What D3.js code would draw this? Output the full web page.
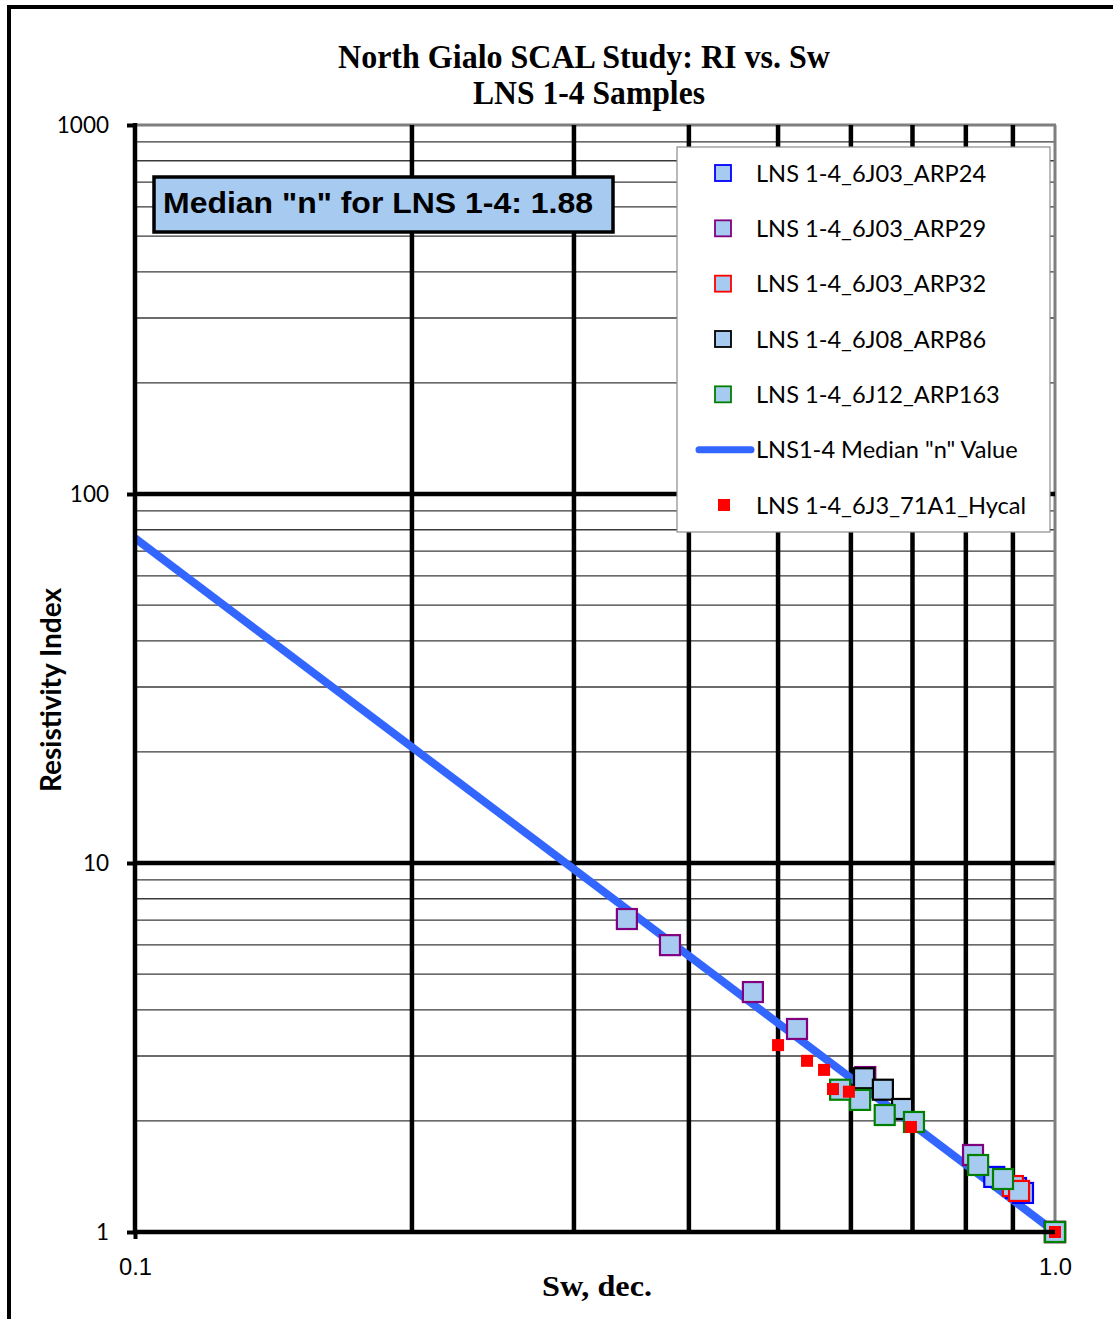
<!DOCTYPE html>
<html>
<head>
<meta charset="utf-8">
<script src="https://cdnjs.cloudflare.com/ajax/libs/d3/7.8.5/d3.min.js"></script>
<style>
  html, body { margin: 0; padding: 0; background: #fff; }
  svg { display: block; }
</style>
</head>
<body>
<script>
// Resistivity index vs. water saturation, LNS 1-4 core samples (log-log)
const seriesNames = [
  "LNS 1-4_6J03_ARP24",
  "LNS 1-4_6J03_ARP29",
  "LNS 1-4_6J03_ARP32",
  "LNS 1-4_6J08_ARP86",
  "LNS 1-4_6J12_ARP163"
];
const seriesStroke = ["#0000ff", "#800080", "#ff0000", "#000000", "#008000"];

const swARP24  = [0.859, 0.907, 0.923, 1.0];
const riARP24  = [1.41, 1.316, 1.276, 1.0];
const swARP29  = [0.3425, 0.3815, 0.4695, 0.5243, 0.622, 0.8145, 1.0];
const riARP29  = [7.05, 5.99, 4.47, 3.55, 2.63, 1.617, 1.0];
const swARP32  = [0.900, 0.914, 1.0];
const riARP32  = [1.332, 1.292, 1.0];
const swARP86  = [0.620, 0.650, 0.682, 1.0];
const riARP86  = [2.61, 2.43, 2.155, 1.0];
const swARP163 = [0.584, 0.614, 0.653, 0.7026, 0.825, 0.878, 1.0];
const riARP163 = [2.43, 2.28, 2.075, 1.987, 1.519, 1.392, 1.0];

const hycalName = "LNS 1-4_6J3_71A1_Hycal";
const swHycal = [0.500, 0.5376, 0.561, 0.5737, 0.597, 0.6973, 1.0];
const riHycal = [3.21, 2.91, 2.75, 2.44, 2.40, 1.926, 1.0];

const medianName = "LNS1-4 Median \"n\" Value";
const medianN = 1.88;
const medianSw = [0.1, 1.0];

const xTickValues = [0.1, 1.0];
const xTickLabels = ["0.1", "1.0"];
const yTickValues = [1, 10, 100, 1000];
const yTickLabels = ["1", "10", "100", "1000"];

const seriesX = [swARP24, swARP29, swARP32, swARP86, swARP163];
const seriesY = [riARP24, riARP29, riARP32, riARP86, riARP163];

const W = 1113, H = 1319;
const svg = d3.select("body").append("svg").attr("width", W).attr("height", H);

// outer chart frame (top and left edges)
svg.append("line").attr("x1", 9).attr("x2", W).attr("y1", 7).attr("y2", 7)
  .attr("stroke", "#000").attr("stroke-width", 4);
svg.append("line").attr("x1", 9).attr("x2", 9).attr("y1", 5).attr("y2", H)
  .attr("stroke", "#000").attr("stroke-width", 4);

const x = d3.scaleLog().domain([0.1, 1.0]).range([135, 1055]);
const y = d3.scaleLog().domain([1, 1000]).range([1232, 125]);

const g = svg.append("g");

// minor horizontal gridlines (2..9 within each decade)
const minorY = [];
for (let d = 1; d < 1000; d *= 10) for (let k = 2; k <= 9; k++) minorY.push(d * k);
g.selectAll("line.minor").data(minorY).enter().append("line")
  .attr("x1", x(0.1)).attr("x2", x(1.0))
  .attr("y1", d => y(d)).attr("y2", d => y(d))
  .attr("stroke", "#3a3a3a").attr("stroke-width", 1.4);

// plot-area border (top and right)
g.append("line").attr("x1", x(0.1)).attr("x2", x(1.0) + 1).attr("y1", y(1000)).attr("y2", y(1000))
  .attr("stroke", "#7f7f7f").attr("stroke-width", 3);
g.append("line").attr("x1", x(1.0)).attr("x2", x(1.0)).attr("y1", y(1000)).attr("y2", y(1))
  .attr("stroke", "#7f7f7f").attr("stroke-width", 3);

// major vertical gridlines
const majorX = [0.2, 0.3, 0.4, 0.5, 0.6, 0.7, 0.8, 0.9];
g.selectAll("line.vx").data(majorX).enter().append("line")
  .attr("x1", d => x(d)).attr("x2", d => x(d))
  .attr("y1", y(1000)).attr("y2", y(1))
  .attr("stroke", "#000").attr("stroke-width", 4.5);

// major horizontal gridlines
g.selectAll("line.hy").data([10, 100]).enter().append("line")
  .attr("x1", x(0.1)).attr("x2", x(1.0))
  .attr("y1", d => y(d)).attr("y2", d => y(d))
  .attr("stroke", "#000").attr("stroke-width", 4.5);

// axes
const yAxis = d3.axisLeft(y).tickValues(yTickValues)
  .tickFormat((d, i) => yTickLabels[i]).tickSizeInner(8).tickSizeOuter(0).tickPadding(18);
const ya = svg.append("g").attr("transform", `translate(${x(0.1)},0)`).call(yAxis);
ya.select(".domain").attr("stroke", "#000").attr("stroke-width", 4.5)
  .attr("d", `M0,${y(1000) - 2}V${y(1) + 2}`);
ya.selectAll(".tick line").attr("stroke", "#000").attr("stroke-width", 4);
ya.selectAll(".tick text").attr("font-family", "Lato, 'Open Sans', sans-serif")
  .attr("font-size", 22.5).attr("fill", "#000");

const xAxis = d3.axisBottom(x).tickValues(xTickValues)
  .tickFormat((d, i) => xTickLabels[i]).tickSizeInner(7).tickSizeOuter(0).tickPadding(20);
const xa = svg.append("g").attr("transform", `translate(0,${y(1)})`).call(xAxis);
xa.select(".domain").attr("stroke", "#000").attr("stroke-width", 4.5)
  .attr("d", `M${x(0.1) - 2},0H${x(1.0)}`);
xa.selectAll(".tick line").attr("stroke", "#000").attr("stroke-width", 4);
xa.selectAll(".tick line").filter(d => d === 1.0).attr("stroke-width", 0);
xa.selectAll(".tick text").attr("font-family", "'Liberation Sans', Arial, sans-serif")
  .attr("font-size", 23).attr("fill", "#000")
  .attr("textLength", 33).attr("lengthAdjust", "spacingAndGlyphs");

// median "n" line: RI = Sw^-n
const line = d3.line().x(d => x(d)).y(d => y(Math.pow(d, -medianN)));
g.append("path").datum(medianSw).attr("d", line)
  .attr("fill", "none").attr("stroke", "#3366ff").attr("stroke-width", 8);

// sample series markers
const markerSize = 20;
seriesX.forEach((xs, si) => {
  const pts = xs.map((v, i) => [v, seriesY[si][i]]);
  g.append("g").selectAll("rect").data(pts).enter().append("rect")
    .attr("x", d => x(d[0]) - markerSize / 2)
    .attr("y", d => y(d[1]) - markerSize / 2)
    .attr("width", markerSize).attr("height", markerSize)
    .attr("fill", "#a6caf0").attr("stroke", seriesStroke[si]).attr("stroke-width", 2.2);
});

// Hycal points
const hpts = swHycal.map((v, i) => [v, riHycal[i]]);
g.append("g").selectAll("rect").data(hpts).enter().append("rect")
  .attr("x", d => x(d[0]) - 6).attr("y", d => y(d[1]) - 6)
  .attr("width", 12).attr("height", 12).attr("fill", "#ff0000");

// annotation box
svg.append("rect").attr("x", 154).attr("y", 177).attr("width", 459).attr("height", 55)
  .attr("fill", "#a6caf0").attr("stroke", "#000").attr("stroke-width", 3.5);
svg.append("text").attr("x", 163).attr("y", 213)
  .attr("font-family", "'Liberation Sans', Arial, sans-serif").attr("font-weight", "bold")
  .attr("font-size", 30).attr("textLength", 430).attr("lengthAdjust", "spacingAndGlyphs")
  .text(`Median "n" for LNS 1-4: ${medianN.toFixed(2)}`);

// legend
const legend = svg.append("g");
legend.append("rect").attr("x", 677).attr("y", 147).attr("width", 373).attr("height", 385)
  .attr("fill", "#fff").attr("stroke", "#8c8c8c").attr("stroke-width", 1.2);
const legendRows = seriesNames.map((n, i) => ({ name: n, kind: "sq", color: seriesStroke[i] }))
  .concat([{ name: medianName, kind: "line" }, { name: hycalName, kind: "dot" }]);
const rowY = d3.scaleLinear().domain([0, legendRows.length - 1]).range([173, 505]);
legendRows.forEach((r, i) => {
  const cy = rowY(i);
  if (r.kind === "sq") {
    legend.append("rect").attr("x", 715).attr("y", cy - 8).attr("width", 16).attr("height", 16)
      .attr("fill", "#a6caf0").attr("stroke", r.color).attr("stroke-width", 1.8);
  } else if (r.kind === "line") {
    legend.append("line").attr("x1", 699).attr("x2", 751).attr("y1", cy).attr("y2", cy)
      .attr("stroke", "#3366ff").attr("stroke-width", 7).attr("stroke-linecap", "round");
  } else {
    legend.append("rect").attr("x", 718).attr("y", cy - 6).attr("width", 12).attr("height", 12)
      .attr("fill", "#ff0000");
  }
  legend.append("text").attr("x", 756).attr("y", cy + 8.5)
    .attr("font-family", "Lato, 'Open Sans', sans-serif").attr("font-size", 23.6)
    .attr("fill", "#000").text(r.name);
});

// titles
const title = svg.append("g").attr("font-family", "'Liberation Serif', 'Times New Roman', serif")
  .attr("font-weight", "bold").attr("text-anchor", "middle").attr("fill", "#000");
title.append("text").attr("x", 584).attr("y", 68).attr("font-size", 33)
  .attr("textLength", 492).attr("lengthAdjust", "spacingAndGlyphs")
  .text("North Gialo SCAL Study: RI vs. Sw");
title.append("text").attr("x", 589).attr("y", 104).attr("font-size", 33)
  .attr("textLength", 232).attr("lengthAdjust", "spacingAndGlyphs")
  .text("LNS 1-4 Samples");
title.append("text").attr("x", 597).attr("y", 1296).attr("font-size", 30)
  .attr("textLength", 110).attr("lengthAdjust", "spacingAndGlyphs")
  .text("Sw, dec.");

svg.append("text").attr("transform", "translate(61,690) rotate(-90)")
  .attr("text-anchor", "middle").attr("font-family", "Lato, 'Open Sans', sans-serif")
  .attr("font-weight", "bold").attr("font-size", 28).attr("fill", "#000")
  .text("Resistivity Index");
</script>
</body>
</html>
